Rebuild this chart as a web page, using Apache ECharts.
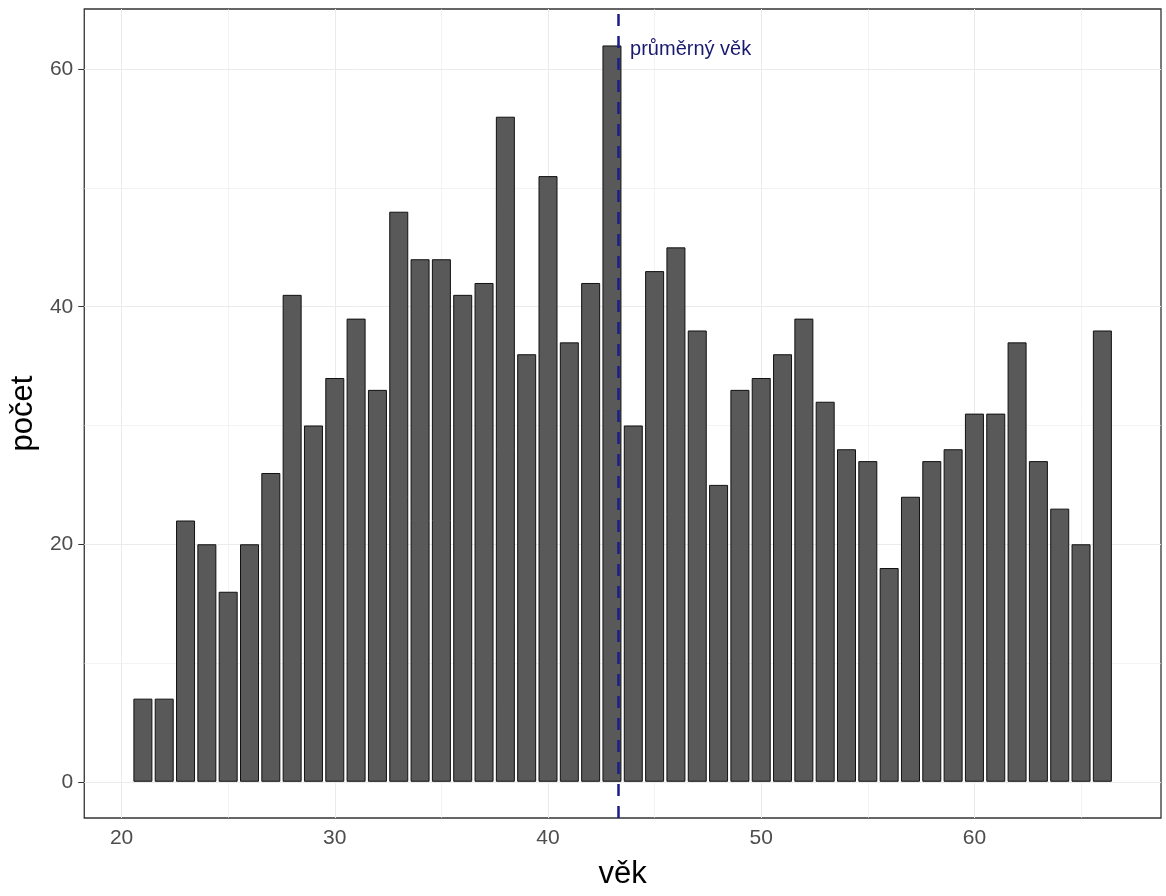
<!DOCTYPE html>
<html>
<head>
<meta charset="utf-8">
<script src="https://cdn.jsdelivr.net/npm/echarts@6/dist/echarts.min.js"></script>
<style>
  html, body { margin: 0; padding: 0; background: #fff; }
  #chart { width: 1166px; height: 896px; }
</style>
</head>
<body>
<div id="chart"></div>
<script>
// věk (age) and počet (count)
const ages = [21, 22, 23, 24, 25, 26, 27, 28, 29, 30, 31, 32, 33, 34, 35, 36, 37, 38, 39, 40, 41, 42, 43,
  44, 45, 46, 47, 48, 49, 50, 51, 52, 53, 54, 55, 56, 57, 58, 59, 60, 61, 62, 63, 64, 65, 66]
const counts = [7, 7, 22, 20, 16, 20, 26, 41, 30, 34, 39, 33, 48, 44, 44, 41, 42, 56, 36, 51, 37, 42, 62,
  30, 43, 45, 38, 25, 33, 34, 36, 39, 32, 28, 27, 18, 24, 27, 28, 31, 31, 37, 27, 23, 20, 38]
const meanAge = 43.3
const meanLabel = 'průměrný věk'

const xTicks = [20, 30, 40, 50, 60]
const xMinor = [25, 35, 45, 55, 65]
const yTicks = [0, 20, 40, 60]
const yMinor = [10, 30, 50]

const chart = echarts.init(document.getElementById('chart'))

const gridLines = [
  ...xTicks.map(v => ({ xAxis: v })),
  ...xMinor.map(v => ({ xAxis: v, lineStyle: { width: 0.6 } })),
  ...yTicks.map(v => ({ yAxis: v })),
  ...yMinor.map(v => ({ yAxis: v, lineStyle: { width: 0.6 } }))
]

const option = {
  animation: false,
  backgroundColor: '#fff',
  textStyle: { fontFamily: 'Liberation Sans, Arial, sans-serif' },
  grid: {
    left: 82, top: 9, right: 5, bottom: 78,
    show: true, borderColor: '#333', borderWidth: 1.3, backgroundColor: '#fff'
  },
  xAxis: {
    type: 'value',
    min: 18.25,
    max: 68.75,
    name: 'věk',
    nameLocation: 'middle',
    nameGap: 41,
    nameTextStyle: { fontSize: 31, color: '#000' },
    axisLine: { show: false },
    axisTick: { show: true, customValues: xTicks, length: 6, lineStyle: { color: '#333' } },
    axisLabel: { customValues: xTicks, fontSize: 21, color: '#4d4d4d', margin: 10 },
    splitLine: { show: false }
  },
  yAxis: {
    type: 'value',
    min: -3.05,
    max: 65.07,
    name: 'počet',
    nameLocation: 'middle',
    nameGap: 43,
    nameTextStyle: { fontSize: 31, color: '#000' },
    axisLine: { show: false },
    axisTick: { show: true, customValues: yTicks, length: 6, lineStyle: { color: '#333' } },
    axisLabel: { customValues: yTicks, fontSize: 21, color: '#4d4d4d', margin: 11 },
    splitLine: { show: false }
  },
  series: [
    {
      type: 'line',
      data: [],
      z: 1,
      silent: true,
      markLine: {
        silent: true,
        z: 1,
        symbol: 'none',
        label: { show: false },
        lineStyle: { color: '#ebebeb', type: 'solid', width: 1 },
        emphasis: { disabled: true },
        data: gridLines
      }
    },
    {
      type: 'bar',
      z: 2,
      barWidth: 19,
      itemStyle: { color: '#595959', borderColor: '#111', borderWidth: 1 },
      data: ages.map((a, i) => [a, counts[i]]),
      markLine: {
        silent: true,
        z: 5,
        symbol: 'none',
        label: { show: false },
        lineStyle: { color: '#1c1c8a', type: [12, 10], width: 2.5 },
        data: [{ xAxis: meanAge }]
      },
      markPoint: {
        silent: true,
        symbol: 'circle',
        symbolSize: 0,
        label: {
          show: true,
          position: 'inside',
          align: 'left',
          verticalAlign: 'middle',
          color: '#191970',
          fontSize: 20,
          formatter: meanLabel
        },
        data: [{ coord: [43.85, 61.7] }]
      }
    }
  ]
}

chart.setOption(option)
</script>
</body>
</html>
